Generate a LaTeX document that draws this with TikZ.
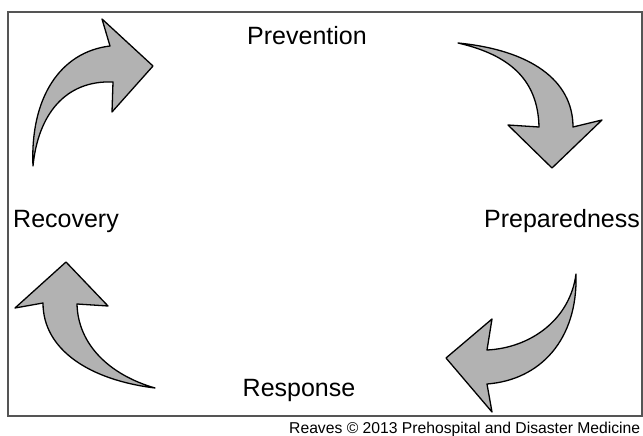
\documentclass[tikz,border=0pt]{standalone}
\usepackage{fontspec}
\setmainfont{Liberation Sans}
\usetikzlibrary{calc}
\definecolor{arrowgray}{RGB}{178,178,178}
\definecolor{framegray}{RGB}{85,85,85}
\tikzset{
	blockarrow/.style={draw=black, line width=1.3pt, fill=arrowgray, line join=round},
	phase/.style={font=\fontsize{25}{30}\selectfont, anchor=base, inner sep=0pt},
}

\begin{document}
\begin{tikzpicture}[x=1pt, y=-1pt]
		%%%%% START %%%%%
		\useasboundingbox (0, 0) rectangle (643, 436);
		
		\draw[line width=2pt, color=framegray] (8, 12) rectangle (642, 416);
		
		\node[phase] (prevention) at (307, 45) {Prevention};
		\node[phase] (preparedness) at (562, 227) {Preparedness};
		\node[phase] (response) at (299, 396) {Response};
		\node[phase] (recovery) at (66, 227) {Recovery};
		
		% top left, to the right
		\draw[blockarrow] (33, 166) .. controls (30, 98) and (60, 52) .. (110, 46)
			-- (102, 19) -- (153, 66) -- (112, 112) -- (113, 82)
			.. controls (65, 80) and (38, 115) .. (33, 166) -- cycle;
		
		% top right, downwards
		\draw[blockarrow] (458, 43) .. controls (530, 50) and (573, 80) .. (573, 127)
			-- (602, 120) -- (552, 168) -- (508, 125) -- (539, 127)
			.. controls (538, 80) and (510, 55) .. (458, 43) -- cycle;
		
		% bottom right, to the left
		\draw[blockarrow] (576, 274) .. controls (578, 340) and (540, 380) .. (487, 384)
			-- (492, 412) -- (446, 358) -- (492, 319) -- (487, 350)
			.. controls (530, 348) and (570, 320) .. (576, 274) -- cycle;
		
		% bottom left, upwards
		\draw[blockarrow] (155, 388) .. controls (90, 380) and (43, 350) .. (43, 303)
			-- (15, 308) -- (66, 262) -- (108, 306) -- (77, 304)
			.. controls (78, 345) and (110, 375) .. (155, 388) -- cycle;
		
		\node[font=\fontsize{15.7}{19}\selectfont, anchor=base west, inner sep=0pt] (credit) at (289, 433)
			{Reaves \textcopyright{} 2013 Prehospital and Disaster Medicine};
		
		%%%%% END %%%%%
	\end{tikzpicture}
\end{document}
